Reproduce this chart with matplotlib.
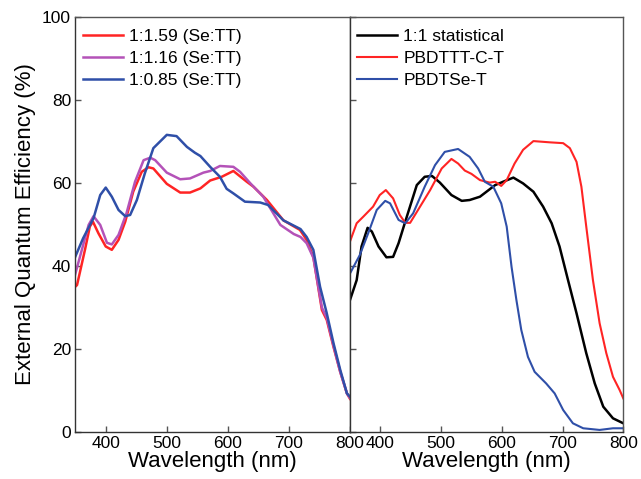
import matplotlib

matplotlib.use("Agg")
import matplotlib.pyplot as plt

plt.rcParams["font.family"] = ["Liberation Sans", "DejaVu Sans"]

# --- left panel: Se:TT ratio series ---------------------------------------
wl_159 = [350, 353, 366, 374, 379, 388, 400, 410, 421, 432, 445, 459, 470, 478,
          500, 522, 538, 555, 571, 590, 609, 631, 642, 664, 691, 718, 729, 740,
          754, 762, 773, 784, 795, 800]
eqe_159 = [35.0, 35.4, 43.9, 49.5, 50.7, 47.9, 44.7, 43.9, 46.3, 50.7, 57.9, 62.7,
           63.8, 63.5, 59.8, 57.7, 57.7, 58.7, 60.6, 61.5, 62.9, 60.3, 59.1, 55.9,
           51.0, 48.7, 46.3, 42.2, 29.4, 27.0, 20.5, 14.5, 9.3, 8.0]

wl_116 = [350, 372, 380, 391, 402, 410, 421, 434, 448, 462, 473, 481, 500, 522,
          538, 560, 571, 587, 609, 620, 637, 658, 686, 708, 719, 729, 740, 754,
          762, 773, 784, 795, 800]
eqe_116 = [38.0, 49.9, 52.0, 49.9, 45.6, 45.2, 47.5, 52.7, 60.3, 65.5, 66.1, 65.5,
           62.5, 60.9, 61.1, 62.5, 62.9, 64.1, 63.9, 62.7, 59.9, 56.7, 49.9, 47.7,
           47.0, 45.5, 42.0, 30.0, 27.5, 20.8, 14.5, 9.3, 8.2]

wl_085 = [350, 363, 380, 391, 400, 410, 421, 432, 440, 451, 464, 478, 500, 516,
          533, 546, 555, 571, 587, 598, 609, 628, 653, 666, 691, 719, 729, 740,
          751, 762, 773, 784, 795, 800]
eqe_085 = [42.2, 46.7, 51.5, 57.1, 58.9, 56.7, 53.5, 52.0, 52.3, 55.9, 62.3, 68.4,
           71.6, 71.3, 68.7, 67.3, 66.5, 63.9, 61.5, 58.6, 57.5, 55.5, 55.3, 54.7,
           51.0, 48.9, 47.0, 43.9, 35.0, 28.6, 21.4, 15.0, 9.3, 8.5]

# --- right panel: comparison series ----------------------------------------
wl_stat = [350, 361, 369, 379, 386, 397, 410, 421, 430, 441, 460, 473, 485, 498,
           517, 534, 547, 564, 589, 602, 619, 635, 652, 668, 682, 695, 709, 723,
           739, 753, 767, 783, 800]
eqe_stat = [31.8, 36.6, 44.7, 49.2, 48.3, 44.7, 42.1, 42.2, 45.5, 50.7, 59.5, 61.5,
            61.7, 60.1, 57.1, 55.7, 55.9, 56.7, 59.5, 60.3, 61.3, 59.9, 57.9, 54.3,
            50.3, 44.7, 36.6, 28.6, 19.0, 11.7, 6.1, 3.3, 2.1]

wl_cct = [350, 361, 372, 388, 399, 409, 421, 432, 441, 449, 462, 482, 501, 517,
          528, 539, 550, 564, 580, 589, 599, 608, 621, 635, 652, 679, 701, 712,
          723, 731, 739, 750, 761, 772, 783, 794, 800]
eqe_cct = [45.9, 50.3, 51.9, 54.3, 57.1, 58.3, 56.3, 52.3, 50.4, 50.4, 53.5, 58.3,
           63.5, 65.8, 64.7, 63.0, 62.2, 60.7, 60.1, 60.3, 59.3, 60.7, 64.7, 68.0,
           70.1, 69.8, 69.6, 68.4, 65.1, 59.1, 49.5, 36.6, 26.2, 19.0, 13.3, 10.1, 8.1]

wl_se = [350, 366, 380, 394, 408, 416, 430, 441, 454, 473, 490, 506, 528, 547,
         561, 572, 586, 599, 608, 616, 624, 632, 643, 654, 673, 687, 701, 717,
         734, 761, 783, 800]
eqe_se = [38.2, 42.6, 47.9, 53.5, 55.7, 55.1, 51.1, 50.3, 52.7, 59.1, 64.3, 67.5,
          68.2, 66.3, 63.5, 60.3, 59.1, 55.1, 49.5, 39.8, 31.8, 24.6, 18.1, 14.5,
          11.7, 9.3, 5.3, 2.1, 0.9, 0.5, 0.9, 0.9]

RED = "#ff2424"
PURPLE = "#b452b8"
BLUE = "#2f4fa8"
SPINE = "#555555"

fig = plt.figure(figsize=(6.41, 4.79), dpi=100)
ax_l = fig.add_axes([0.1173, 0.0981, 0.4287, 0.8664])
ax_r = fig.add_axes([0.5460, 0.0981, 0.4264, 0.8664])

ax_l.plot(wl_159, eqe_159, color=RED, lw=1.8, label="1:1.59 (Se:TT)")
ax_l.plot(wl_116, eqe_116, color=PURPLE, lw=1.8, label="1:1.16 (Se:TT)")
ax_l.plot(wl_085, eqe_085, color=BLUE, lw=1.8, label="1:0.85 (Se:TT)")

ax_r.plot(wl_stat, eqe_stat, color="black", lw=1.8, label="1:1 statistical")
ax_r.plot(wl_cct, eqe_cct, color=RED, lw=1.5, label="PBDTTT-C-T")
ax_r.plot(wl_se, eqe_se, color=BLUE, lw=1.5, label="PBDTSe-T")

for ax in (ax_l, ax_r):
    ax.set_xlim(350, 800)
    ax.set_ylim(0, 100)
    ax.set_xticks([400, 500, 600, 700, 800])
    ax.set_yticks([0, 20, 40, 60, 80, 100])
    ax.tick_params(direction="in", length=4, width=1, labelsize=12.5,
                   color=SPINE, pad=3)
    ax.set_xlabel("Wavelength (nm)", fontsize=16, labelpad=0)
    for side in ("top", "right"):
        ax.spines[side].set_color(SPINE)
    for side in ("left", "bottom"):
        ax.spines[side].set_color("#333333")
    for sp in ax.spines.values():
        sp.set_linewidth(1.0)
    ax.legend(loc="upper left", bbox_to_anchor=(0.027, 0.972), frameon=False,
              fontsize=12.5, handlelength=2.3, handletextpad=0.35,
              labelspacing=0.39, borderpad=0, borderaxespad=0)

ax_r.tick_params(labelleft=False)
ax_l.set_ylabel("External Quantum Efficiency (%)", fontsize=16, labelpad=4)

fig.savefig("out.png", dpi=100)
